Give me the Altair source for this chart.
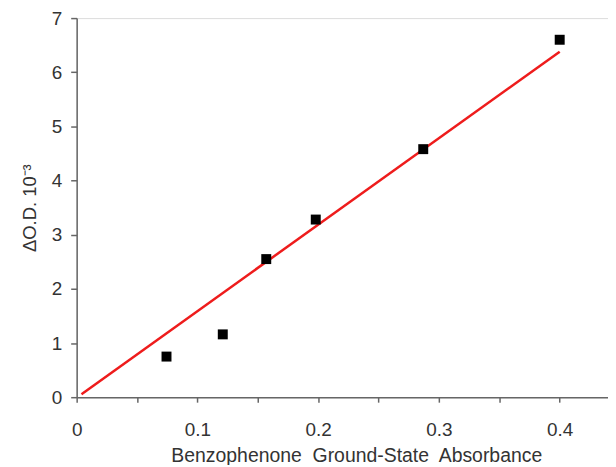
import altair as alt
import pandas as pd

# Measured points (benzophenone ground-state absorbance vs ΔO.D. x 10^-3)
absorbance = [0.0744, 0.121, 0.157, 0.198, 0.287, 0.400]
delta_od = [0.75, 1.16, 2.55, 3.28, 4.58, 6.60]

# Linear fit line end points
fit_x = [0.004, 0.400]
fit_y = [0.055, 6.38]

# Axis ticks
x_ticks = [0, 0.025, 0.05, 0.075, 0.1, 0.125, 0.15, 0.175, 0.2, 0.225, 0.25,
           0.275, 0.3, 0.325, 0.35, 0.375, 0.4, 0.425]
y_ticks = [0, 0.5, 1, 1.5, 2, 2.5, 3, 3.5, 4, 4.5, 5, 5.5, 6, 6.5, 7]

pts = pd.DataFrame({"x": absorbance, "y": delta_od})
fit = pd.DataFrame({"x": fit_x, "y": fit_y})

FONT = "Liberation Sans"
AX = "#666666"
TXT = "#333333"

x_enc = alt.X(
    "x:Q",
    scale=alt.Scale(domain=[0, 0.44], nice=False, zero=False),
    axis=alt.Axis(
        title="Benzophenone\u00a0 Ground-State\u00a0 Absorbance",
        values=x_ticks,
        labelExpr="abs(datum.value*10 - round(datum.value*10)) < 0.001 ? format(datum.value, '.1~f') : ''",
        grid=False,
        domainColor=AX, domainWidth=1.5,
        tickColor=AX, tickWidth=1.5, tickSize=5,
        labelFont=FONT, labelFontSize=19, labelColor=TXT, labelPadding=18,
        titleFont=FONT, titleFontSize=19.5, titleFontWeight="normal", titleColor=TXT,
        titleX=281, titleY=65, titleAlign="center", titleBaseline="alphabetic",
        labelFlush=False, labelOverlap=False,
    ),
)
y_enc = alt.Y(
    "y:Q",
    scale=alt.Scale(domain=[0, 7], nice=False),
    axis=alt.Axis(
        title="ΔO.D. 10⁻³",
        values=y_ticks,
        labelExpr="datum.value % 1 == 0 ? datum.value : ''",
        grid=False,
        domainColor=AX, domainWidth=1.5,
        tickColor=AX, tickWidth=1.5, tickSize=6,
        labelFont=FONT, labelFontSize=19, labelColor=TXT, labelPadding=9,
        titleFont=FONT, titleFontSize=18.5, titleFontWeight="normal", titleColor=TXT,
        titlePadding=12,
        labelFlush=False, labelOverlap=False,
    ),
)

line = alt.Chart(fit).mark_line(color="#ee1c1c", strokeWidth=2.5).encode(x=x_enc, y=y_enc)
squares = alt.Chart(pts).mark_square(size=100, color="#000000", opacity=1, filled=True).encode(
    x="x:Q", y="y:Q"
)

chart = (
    alt.layer(line, squares)
    .properties(
        width=534,
        height=381,
        autosize=alt.AutoSizeParams(type="none"),
        padding={"left": 69, "top": 9, "right": 0, "bottom": 67},
    )
    .configure_view(stroke=None)
    .configure(background="white")
)

chart.save("out.html", embed_options={"renderer": "svg", "actions": False})
